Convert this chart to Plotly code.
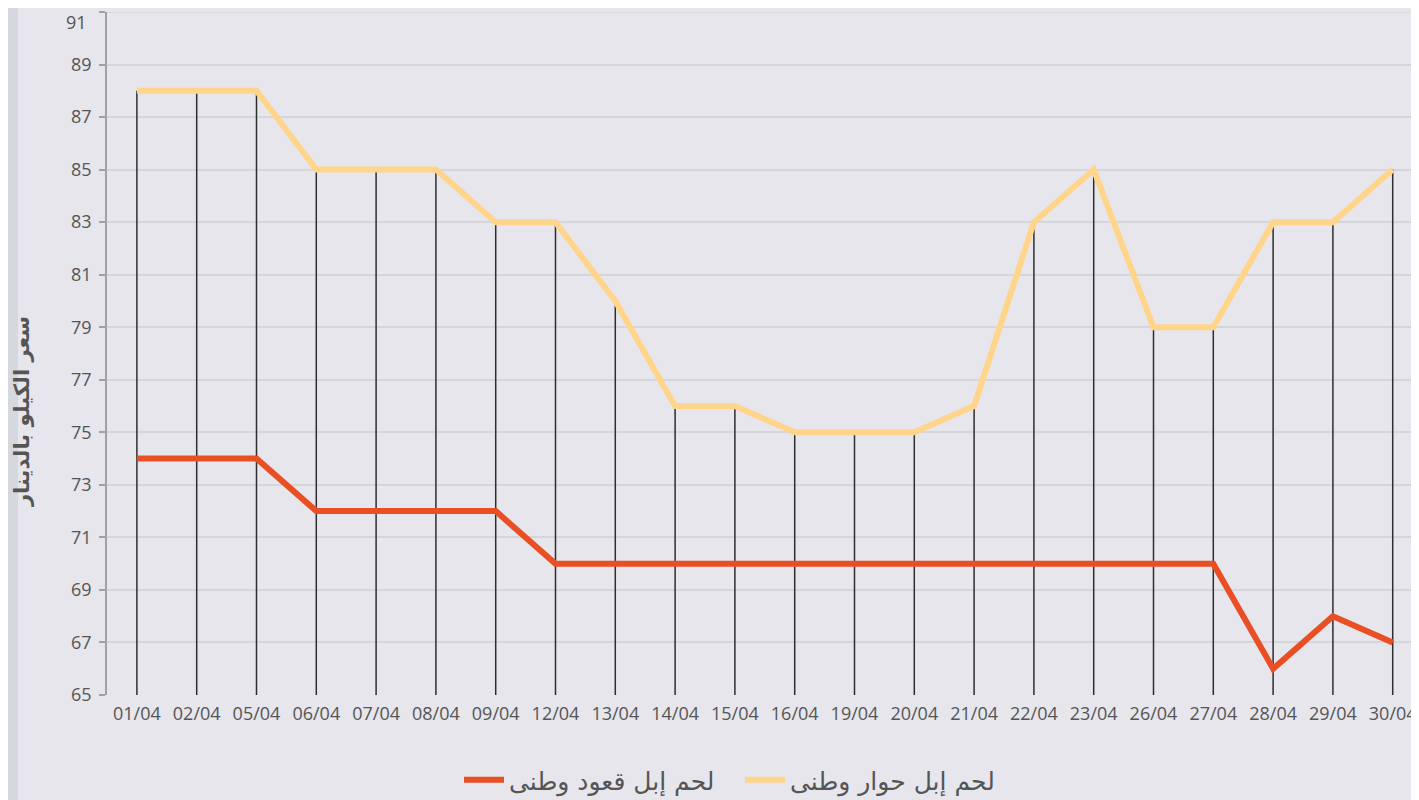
import plotly.graph_objects as go

dates = ["01/04", "02/04", "05/04", "06/04", "07/04", "08/04", "09/04", "12/04", "13/04",
         "14/04", "15/04", "16/04", "19/04", "20/04", "21/04", "22/04", "23/04", "26/04",
         "27/04", "28/04", "29/04", "30/04"]
hawar = [88, 88, 88, 85, 85, 85, 83, 83, 80, 76, 76, 75, 75, 75, 76, 83, 85, 79, 79, 83, 83, 85]
qaoud = [74, 74, 74, 72, 72, 72, 72, 70, 70, 70, 70, 70, 70, 70, 70, 70, 70, 70, 70, 66, 68, 67]
name_hawar = "لحم إبل حوار وطنى"
name_qaoud = "لحم إبل قعود وطنى"
y_title = "سعر الكيلو بالدينار"
y_min, y_max = 65, 91
y_ticks = list(range(65, 92, 2))

# page body has an 8px margin: size the figure so it fills the 1419x800 window
OFF = 8
W, H = 1419 - OFF, 800 - OFF
ML = 107 - OFF
MT = 12 - OFF
MB = H - (695 - OFF)
MR = 0
PW = W - ML - MR
PH = H - MT - MB

# drop lines from the higher series down to the axis floor
dx, dy = [], []
for d, a, b in zip(dates, hawar, qaoud):
    dx += [d, d, None]
    dy += [max(a, b), y_min, None]

fig = go.Figure()
fig.add_trace(go.Scatter(x=dx, y=dy, mode="lines", line=dict(color="#2e2e2e", width=1.5),
                         showlegend=False, hoverinfo="skip"))
fig.add_trace(go.Scatter(x=dates, y=qaoud, mode="lines", name=name_qaoud,
                         line=dict(color="#E94E24", width=6)))
fig.add_trace(go.Scatter(x=dates, y=hawar, mode="lines", name=name_hawar,
                         line=dict(color="#FFD58C", width=6)))

px_per_cat = 59.8
span = PW / px_per_cat

tick_font = dict(family="Open Sans", size=18, color="#555555")

fig.update_layout(
    width=W, height=H,
    margin=dict(l=ML, r=MR, t=MT, b=MB, autoexpand=False),
    paper_bgcolor="#E6E6EC",
    plot_bgcolor="rgba(0,0,0,0)",
    showlegend=True,
    legend=dict(orientation="h", x=(740 - 107) / PW, xanchor="center", y=-(780 - 695) / PH,
                yanchor="middle", font=dict(family="DejaVu Sans", size=25, color="#555555"),
                itemwidth=40, entrywidth=226, entrywidthmode="pixels",
                traceorder="normal", bgcolor="rgba(0,0,0,0)"),
    xaxis=dict(type="category", range=[-0.5, -0.5 + span], showgrid=False, zeroline=False,
               showline=False, ticks="", tickfont=tick_font,
               tickangle=0, ticklabelstandoff=6, automargin=False, fixedrange=True),
    yaxis=dict(range=[y_min, y_max], tickvals=y_ticks,
               ticktext=[str(v) if v != y_max else "" for v in y_ticks],
               showgrid=True, gridcolor="#D5D6DB",
               gridwidth=1.5, zeroline=False, showline=True, linecolor="#A0A0A6", linewidth=1.5,
               ticks="outside", ticklen=6, tickcolor="#A0A0A6", tickwidth=1.5,
               tickfont=tick_font,
               ticklabelstandoff=4, ticklabeloverflow="allow", automargin=False,
               fixedrange=True),
)

# top tick label, nudged to stay inside the page
fig.add_annotation(text=str(y_max), xref="paper", yref="paper", x=-(107 - 89) / PW,
                   y=1 + MT / PH, xanchor="right", yanchor="top", showarrow=False,
                   font=tick_font)

# top gridline at the range maximum
fig.add_shape(type="line", xref="paper", yref="y", x0=0, x1=1, y0=y_max, y1=y_max,
              line=dict(color="#D5D6DB", width=1.5), layer="below")

# y-axis title as rotated annotation (sits below the axis centre in the reference)
fig.add_annotation(text="<b>" + y_title + "</b>", xref="paper", yref="paper",
                   x=-(107 - 22) / PW, y=(695 - 412) / PH, textangle=-90, showarrow=False,
                   xanchor="center", yanchor="middle",
                   font=dict(family="DejaVu Sans", size=21, color="#555555"))

# left edge shading to mimic the card border
fig.add_shape(type="rect", xref="paper", yref="paper", x0=-ML / PW, x1=-(ML - 10) / PW,
              y0=-MB / PH, y1=1 + MT / PH, fillcolor="#D6D8E0", line_width=0, layer="below")

fig.write_html("out.html")
